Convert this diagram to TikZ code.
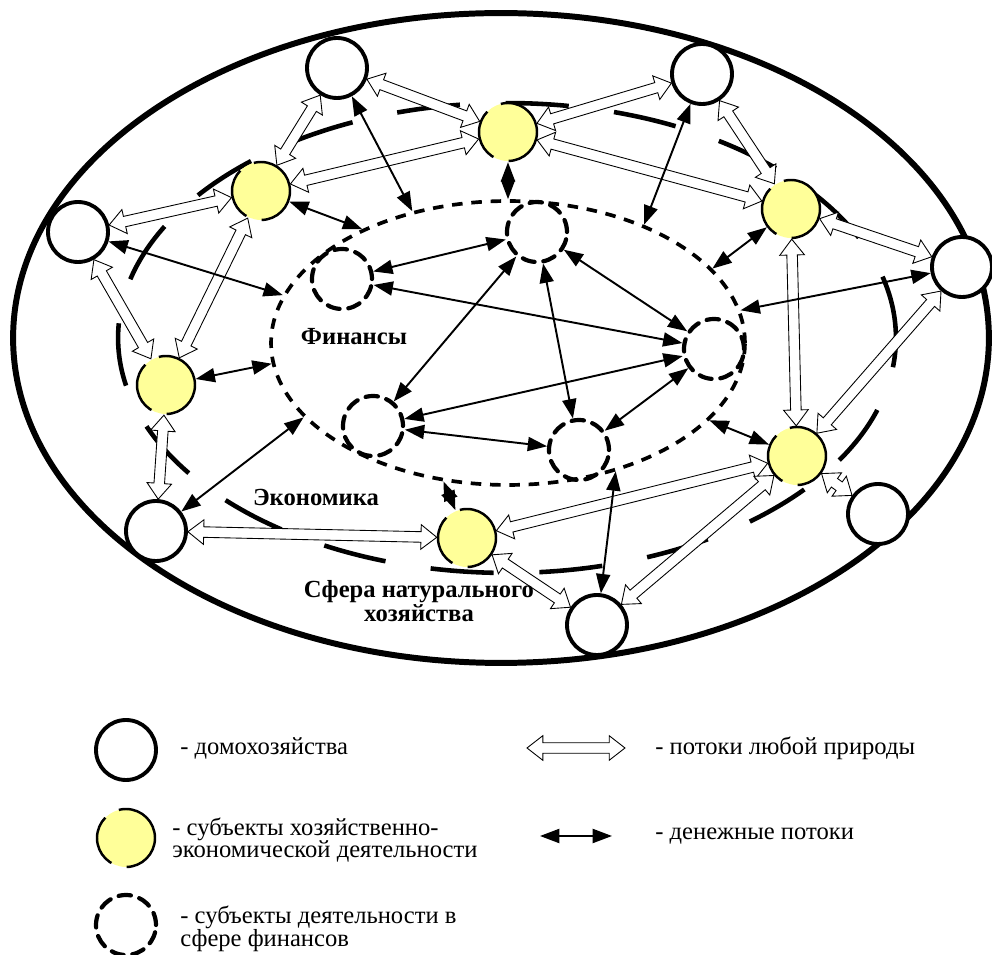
\documentclass[tikz,border=0pt]{standalone}
\usepackage{fontspec}
\setmainfont{Liberation Serif}
\usetikzlibrary{arrows.meta,shapes.geometric,calc}
\definecolor{firmyellow}{RGB}{255,255,153}

% hollow double-headed arrow between two nodes (flows of any nature)
\newcommand\flowarrow[2]{%
  \path (#1) -- (#2) coordinate[pos=0] (fs) coordinate[pos=1] (fe);
  \coordinate (fp) at ($(fs)!9pt!(fe)$);
  \coordinate (fq) at ($(fe)!9pt!(fs)$);
  \draw[flowline] (fs) -- ($(fp)!7pt!90:(fe)$) -- ($(fp)!3pt!90:(fe)$)
    -- ($(fq)!3pt!-90:(fs)$) -- ($(fq)!7pt!-90:(fs)$) -- (fe)
    -- ($(fq)!7pt!90:(fs)$) -- ($(fq)!3pt!90:(fs)$)
    -- ($(fp)!3pt!-90:(fe)$) -- ($(fp)!7pt!-90:(fe)$) -- cycle;
}

\begin{document}
\begin{tikzpicture}[x=0.02cm, y=-0.02cm,
  house/.style={circle, draw, line width=2.2pt, fill=white, minimum size=1.2cm, inner sep=0pt},
  firm/.style={circle, draw, fill=firmyellow, line width=1.4pt, dash pattern=on 30pt off 9pt, minimum size=1.16cm, inner sep=0pt},
  finunit/.style={circle, draw, line width=2.4pt, dash pattern=on 7pt off 5pt, line cap=round, minimum size=1.2cm, inner sep=0pt},
  flowline/.style={draw, fill=white, line width=0.5pt, line join=miter},
  money/.style={line width=1.1pt, {Triangle[length=11pt,width=8pt]}-{Triangle[length=11pt,width=8pt]}},
  areatext/.style={font=\fontsize{14pt}{12pt}\selectfont\bfseries, align=center, inner sep=0pt},
  legtext/.style={font=\fontsize{14pt}{13pt}\selectfont, align=left, anchor=west, inner sep=0pt}]

  \useasboundingbox (0,0) rectangle (992,955);

  % Outer ellipse, economy ellipse and finance ellipse
  \draw[line width=3.4pt] (501,338) ellipse [x radius=9.76cm, y radius=6.5cm];
  \draw[line width=2.6pt, dash pattern=on 36pt off 26pt] (507,338) ellipse [x radius=7.78cm, y radius=4.7cm];
  \node[ellipse, draw, line width=2.1pt, dash pattern=on 6pt off 5pt,
    minimum width=9.48cm, minimum height=5.68cm, inner sep=0pt] (fin) at (508,343) {};

  % Households
  \foreach \n/\x/\y in {h1/337/68, h2/702/74, h3/78/232, h4/962/267, h5/156/531, h6/878/514, h7/597/625}
    \node[house] (\n) at (\x,\y) {};

  % Economic subjects
  \foreach \n/\x/\y in {e1/261/191, e2/508/132, e3/791/209, e4/166/385, e5/797/456, e6/467/538}
    \node[firm] (\n) at (\x,\y) {};

  % Subjects in finance
  \foreach \n/\x/\y in {f1/342/279, f2/537/232, f3/714/349, f4/373/426, f5/579/450}
    \node[finunit] (\n) at (\x,\y) {};

  % Flows of any nature
  \foreach \a/\b in {h3/e1, e1/h1, h1/e2, e1/e2, e2/h2, e2/e3, h2/e3, e3/h4, h3/e4, e1/e4,
                     e4/h5, h5/e6, e6/e5, e6/h7, h7/e5, e5/h6, e3/e5, h4/e5}
    \flowarrow{\a}{\b};

  % Money flows inside finance
  \foreach \a/\b in {f1/f2, f1/f3, f2/f3, f2/f4, f2/f5, f4/f3, f4/f5, f5/f3}
    \draw[money] (\a) -- (\b);

  % Money flows to the finance sphere
  \foreach \a/\ang in {h1/126.8, e1/142.8, h3/168.7, e2/90, h2/41.2, e3/20.4, h4/8.8,
                       e4/185.9, h5/200.2, e6/245.6, h7/310.6, e5/339.6}
    \draw[money] (\a) -- (fin.\ang);

  % Sphere names
  \node[areatext] (finname) at (354,337) {Финансы};
  \node[areatext] (econname) at (316,497) {Экономика};
  \node[areatext] (natname) at (419,601) {Сфера натурального\\хозяйства};

  % Legend
  \node[house] (lghouse) at (126,750) {};
  \node[firm] (lgfirm) at (126,838) {};
  \node[finunit] (lgfin) at (126,925) {};
  \node[legtext] (lghousetxt) at (180,748) {- домохозяйства};
  \node[legtext] (lgfirmtxt) at (172,840) {- субъекты хозяйственно-\\экономической деятельности};
  \node[legtext] (lgfintxt) at (180,929) {- субъекты деятельности в\\сфере финансов};

  \coordinate (lgflowa) at (527,748);
  \coordinate (lgflowb) at (625,748);
  \flowarrow{lgflowa}{lgflowb};
  \coordinate (lgmoneya) at (540,836);
  \coordinate (lgmoneyb) at (612,836);
  \draw[money] (lgmoneya) -- (lgmoneyb);
  \node[legtext] (lgflowtxt) at (655,748) {- потоки любой природы};
  \node[legtext] (lgmoneytxt) at (655,836) {- денежные потоки};
\end{tikzpicture}
\end{document}
